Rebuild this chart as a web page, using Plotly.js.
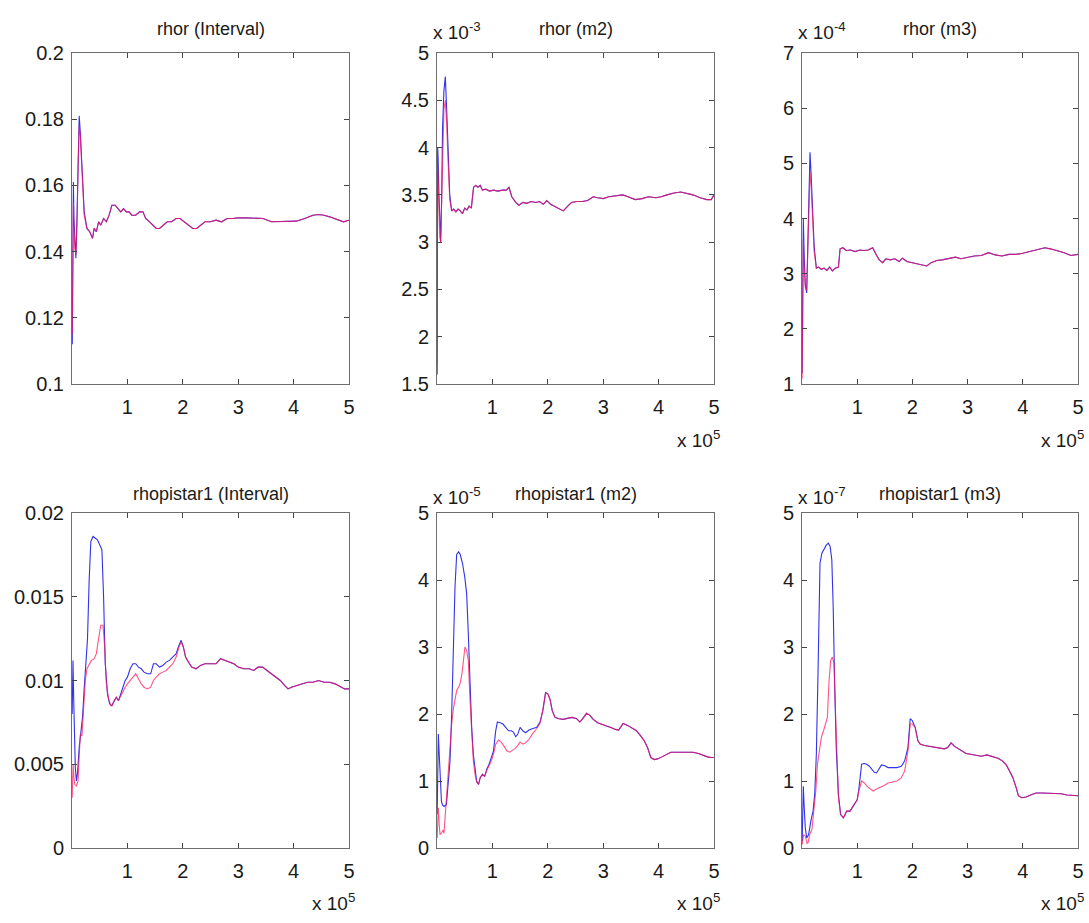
<!DOCTYPE html>
<html>
<head>
<meta charset="utf-8">
<script src="https://cdn.plot.ly/plotly-3.0.1.min.js"></script>
<style>html,body{margin:0;padding:0;background:#fff;}#chart{width:1089px;height:923px;}</style>
</head>
<body>
<div id="chart"></div>
<script>
// ---------- DATA (x in units of 1e5) ----------
const panelTitles = ["rhor (Interval)", "rhor (m2)", "rhor (m3)", "rhopistar1 (Interval)", "rhopistar1 (m2)", "rhopistar1 (m3)"];
const yExponents = ["", "-3", "-4", "", "-5", "-7"];
const xTickVals = [1, 2, 3, 4, 5];
const xTickText = ["1", "2", "3", "4", "5"];
const yTickVals1 = [0.1, 0.12, 0.14, 0.16, 0.18, 0.2];
const yTickText1 = ["0.1", "0.12", "0.14", "0.16", "0.18", "0.2"];
const yTickVals2 = [1.5, 2, 2.5, 3, 3.5, 4, 4.5, 5];
const yTickText2 = ["1.5", "2", "2.5", "3", "3.5", "4", "4.5", "5"];
const yTickVals3 = [1, 2, 3, 4, 5, 6, 7];
const yTickText3 = ["1", "2", "3", "4", "5", "6", "7"];
const yTickVals4 = [0, 0.005, 0.01, 0.015, 0.02];
const yTickText4 = ["0", "0.005", "0.01", "0.015", "0.02"];
const yTickVals5 = [0, 1, 2, 3, 4, 5];
const yTickText5 = ["0", "1", "2", "3", "4", "5"];

// Panel 1: rhor (Interval)
const xB1 = [0.005,0.015,0.025,0.035,0.05,0.07,0.09,0.11,0.13,0.15,0.18,0.22,0.27,0.32,0.37,0.40,0.44,0.48,0.52,0.57,0.62,0.67,0.72,0.78,0.83,0.88,0.93,0.98,1.03,1.08,1.15,1.22,1.28,1.33,1.40,1.46,1.52,1.58,1.65,1.72,1.80,1.88,1.95,2.02,2.10,2.18,2.25,2.32,2.40,2.50,2.60,2.70,2.80,2.90,3.00,3.15,3.30,3.45,3.60,3.75,3.90,4.05,4.20,4.35,4.45,4.55,4.65,4.80,4.90,5.00];
const yB1 = [0.112,0.135,0.161,0.150,0.142,0.138,0.150,0.170,0.181,0.176,0.165,0.152,0.147,0.146,0.144,0.147,0.146,0.149,0.148,0.150,0.149,0.151,0.154,0.154,0.153,0.152,0.153,0.152,0.152,0.151,0.151,0.152,0.152,0.150,0.149,0.148,0.147,0.147,0.148,0.149,0.149,0.150,0.150,0.149,0.148,0.147,0.147,0.148,0.149,0.149,0.1495,0.149,0.150,0.150,0.1502,0.1502,0.150,0.150,0.149,0.149,0.149,0.1492,0.150,0.151,0.1512,0.151,0.1505,0.1495,0.149,0.1495];
const xR1 = xB1;
const yR1 = [0.115,0.140,0.155,0.148,0.141,0.139,0.148,0.166,0.178,0.175,0.163,0.151,0.147,0.146,0.144,0.147,0.146,0.149,0.148,0.150,0.149,0.151,0.154,0.154,0.153,0.152,0.153,0.152,0.152,0.151,0.151,0.152,0.152,0.150,0.149,0.148,0.147,0.147,0.148,0.149,0.149,0.150,0.150,0.149,0.148,0.147,0.147,0.148,0.149,0.149,0.1495,0.149,0.150,0.150,0.1502,0.1502,0.150,0.150,0.149,0.149,0.149,0.1492,0.150,0.151,0.1512,0.151,0.1505,0.1495,0.149,0.1495];

// Panel 2: rhor (m2), units 1e-3
const xB2 = [0.003,0.008,0.012,0.020,0.035,0.050,0.066,0.085,0.10,0.125,0.150,0.175,0.20,0.23,0.265,0.30,0.34,0.38,0.42,0.46,0.50,0.54,0.58,0.62,0.66,0.70,0.74,0.78,0.82,0.88,0.95,1.02,1.10,1.18,1.25,1.30,1.35,1.42,1.48,1.55,1.62,1.70,1.78,1.85,1.92,1.98,2.05,2.12,2.20,2.28,2.36,2.43,2.52,2.62,2.72,2.82,2.90,3.00,3.10,3.20,3.35,3.45,3.58,3.70,3.82,3.95,4.05,4.15,4.28,4.40,4.50,4.62,4.75,4.87,4.95,5.00];
const yB2 = [1.6,2.6,4.0,3.9,3.5,3.1,3.0,3.5,4.2,4.6,4.75,4.4,3.9,3.5,3.33,3.35,3.32,3.35,3.33,3.30,3.36,3.34,3.38,3.36,3.58,3.60,3.58,3.60,3.55,3.56,3.54,3.55,3.54,3.55,3.55,3.58,3.48,3.42,3.39,3.42,3.41,3.43,3.42,3.43,3.40,3.44,3.40,3.38,3.35,3.33,3.38,3.42,3.43,3.43,3.44,3.48,3.47,3.46,3.48,3.49,3.50,3.48,3.45,3.46,3.48,3.47,3.48,3.50,3.52,3.53,3.52,3.50,3.47,3.45,3.45,3.50];
const xR2 = xB2;
const yR2 = [1.7,2.4,3.8,3.7,3.4,3.05,3.0,3.4,4.0,4.4,4.5,4.25,3.85,3.45,3.33,3.35,3.32,3.35,3.33,3.30,3.36,3.34,3.38,3.36,3.58,3.60,3.58,3.60,3.55,3.56,3.54,3.55,3.54,3.55,3.55,3.58,3.48,3.42,3.39,3.42,3.41,3.43,3.42,3.43,3.40,3.44,3.40,3.38,3.35,3.33,3.38,3.42,3.43,3.43,3.44,3.48,3.47,3.46,3.48,3.49,3.50,3.48,3.45,3.46,3.48,3.47,3.48,3.50,3.52,3.53,3.52,3.50,3.47,3.45,3.45,3.50];

// Panel 3: rhor (m3), units 1e-4
const xB3 = [0.003,0.010,0.018,0.024,0.04,0.06,0.085,0.10,0.12,0.145,0.165,0.19,0.22,0.26,0.30,0.35,0.40,0.45,0.50,0.55,0.60,0.66,0.69,0.74,0.80,0.88,0.96,1.05,1.12,1.20,1.28,1.34,1.40,1.46,1.52,1.60,1.68,1.76,1.82,1.90,1.98,2.06,2.15,2.26,2.34,2.44,2.54,2.66,2.78,2.88,3.00,3.12,3.25,3.38,3.50,3.62,3.75,3.88,4.00,4.12,4.25,4.40,4.50,4.62,4.75,4.87,5.00];
const yB3 = [1.2,2.5,3.9,4.0,3.3,2.8,2.65,3.3,4.5,5.2,4.8,4.2,3.5,3.1,3.12,3.08,3.10,3.06,3.12,3.05,3.10,3.12,3.45,3.47,3.42,3.43,3.40,3.43,3.42,3.43,3.47,3.35,3.25,3.20,3.27,3.25,3.27,3.22,3.28,3.22,3.20,3.18,3.16,3.14,3.20,3.24,3.25,3.28,3.30,3.27,3.30,3.32,3.33,3.38,3.34,3.32,3.35,3.35,3.37,3.40,3.43,3.47,3.45,3.42,3.38,3.33,3.35];
const xR3 = xB3;
const yR3 = [1.1,2.3,3.5,3.6,3.1,2.75,2.7,3.2,4.3,4.85,4.6,4.0,3.4,3.1,3.12,3.08,3.10,3.06,3.12,3.05,3.10,3.12,3.45,3.47,3.42,3.43,3.40,3.43,3.42,3.43,3.47,3.35,3.25,3.20,3.27,3.25,3.27,3.22,3.28,3.22,3.20,3.18,3.16,3.14,3.20,3.24,3.25,3.28,3.30,3.27,3.30,3.32,3.33,3.38,3.34,3.32,3.35,3.35,3.37,3.40,3.43,3.47,3.45,3.42,3.38,3.33,3.35];

// Panel 4: rhopistar1 (Interval)
const xB4 = [0.003,0.012,0.018,0.030,0.045,0.060,0.08,0.10,0.13,0.16,0.19,0.22,0.25,0.28,0.31,0.34,0.38,0.42,0.46,0.50,0.54,0.57,0.60,0.64,0.68,0.72,0.76,0.80,0.84,0.88,0.92,0.96,1.00,1.05,1.10,1.15,1.20,1.25,1.30,1.36,1.42,1.47,1.52,1.58,1.64,1.70,1.76,1.82,1.88,1.93,1.97,2.01,2.05,2.10,2.16,2.24,2.32,2.40,2.50,2.60,2.68,2.76,2.84,2.92,3.00,3.10,3.20,3.28,3.36,3.44,3.52,3.60,3.68,3.76,3.84,3.90,3.96,4.05,4.15,4.25,4.35,4.45,4.55,4.65,4.75,4.85,4.92,5.00];
const yB4 = [0.0080,0.0100,0.0112,0.0090,0.0060,0.0048,0.0040,0.0045,0.0060,0.0068,0.0078,0.0095,0.0110,0.0125,0.0160,0.0183,0.0186,0.0185,0.0184,0.0181,0.0178,0.0150,0.0110,0.0092,0.0086,0.0085,0.0088,0.0090,0.0088,0.0092,0.0095,0.0100,0.0102,0.0107,0.0110,0.0110,0.0108,0.0107,0.0105,0.0104,0.0104,0.0110,0.0110,0.0108,0.0109,0.0111,0.0112,0.0114,0.0116,0.0121,0.0124,0.0120,0.0114,0.0111,0.0108,0.0107,0.0109,0.0110,0.0110,0.0110,0.0113,0.0112,0.0111,0.0110,0.0108,0.0107,0.0107,0.0106,0.0108,0.0108,0.0106,0.0104,0.0102,0.0100,0.0097,0.0095,0.0096,0.0097,0.0098,0.0099,0.0099,0.0100,0.0099,0.0099,0.0098,0.0096,0.0095,0.0095];
const xR4 = [0.003,0.012,0.020,0.035,0.05,0.08,0.11,0.13,0.15,0.18,0.21,0.24,0.27,0.31,0.35,0.40,0.44,0.48,0.52,0.56,0.59,0.62,0.66,0.70,0.72,0.76,0.80,0.84,0.88,0.92,0.96,1.00,1.05,1.10,1.15,1.20,1.25,1.30,1.36,1.42,1.47,1.52,1.58,1.64,1.70,1.76,1.82,1.88,1.93,1.97,2.01,2.05,2.10,2.16,2.24,2.32,2.40,2.50,2.60,2.68,2.76,2.84,2.92,3.00,3.10,3.20,3.28,3.36,3.44,3.52,3.60,3.68,3.76,3.84,3.90,3.96,4.05,4.15,4.25,4.35,4.45,4.55,4.65,4.75,4.85,4.92,5.00];
const yR4 = [0.0030,0.0045,0.0050,0.0042,0.0038,0.0037,0.0040,0.0055,0.0068,0.0067,0.0082,0.0100,0.0107,0.0110,0.0112,0.0113,0.0116,0.0125,0.0133,0.0133,0.0120,0.0098,0.0089,0.0085,0.0085,0.0088,0.0090,0.0088,0.0091,0.0093,0.0096,0.0098,0.0100,0.0102,0.0104,0.0101,0.0098,0.0096,0.0095,0.0096,0.0100,0.0102,0.0104,0.0105,0.0106,0.0108,0.0110,0.0114,0.0120,0.0123,0.0120,0.0114,0.0111,0.0108,0.0107,0.0109,0.0110,0.0110,0.0110,0.0113,0.0112,0.0111,0.0110,0.0108,0.0107,0.0107,0.0106,0.0108,0.0108,0.0106,0.0104,0.0102,0.0100,0.0097,0.0095,0.0096,0.0097,0.0098,0.0099,0.0099,0.0100,0.0099,0.0099,0.0098,0.0096,0.0095,0.0095];

// Panel 5: rhopistar1 (m2), units 1e-5
const xB5 = [0.003,0.012,0.024,0.04,0.06,0.08,0.10,0.13,0.17,0.20,0.235,0.265,0.295,0.325,0.355,0.39,0.42,0.46,0.50,0.535,0.565,0.596,0.626,0.656,0.686,0.716,0.75,0.78,0.82,0.86,0.90,0.94,0.98,1.02,1.06,1.09,1.14,1.19,1.24,1.29,1.34,1.38,1.42,1.46,1.50,1.55,1.60,1.66,1.72,1.80,1.86,1.91,1.96,2.00,2.04,2.08,2.13,2.20,2.28,2.36,2.44,2.52,2.58,2.63,2.70,2.76,2.82,2.90,2.98,3.06,3.14,3.22,3.28,3.36,3.44,3.52,3.60,3.68,3.74,3.80,3.86,3.92,3.98,4.06,4.14,4.22,4.32,4.42,4.52,4.62,4.72,4.80,4.88,4.95,5.00];
const yB5 = [0.5,1.5,1.7,1.4,0.9,0.7,0.64,0.62,0.65,0.9,1.3,2.0,3.0,3.9,4.38,4.42,4.38,4.25,4.05,3.8,3.2,2.4,1.8,1.4,1.15,0.99,0.95,1.05,1.1,1.07,1.18,1.25,1.35,1.45,1.75,1.88,1.87,1.85,1.80,1.75,1.75,1.73,1.66,1.70,1.80,1.75,1.72,1.76,1.78,1.80,1.88,2.05,2.32,2.30,2.22,2.05,1.95,1.93,1.92,1.94,1.95,1.93,1.88,1.93,2.01,1.98,1.92,1.87,1.84,1.82,1.80,1.77,1.76,1.86,1.83,1.79,1.75,1.67,1.60,1.50,1.35,1.32,1.33,1.36,1.40,1.43,1.43,1.43,1.44,1.43,1.41,1.38,1.36,1.35,1.35];
const xR5 = [0.003,0.012,0.024,0.04,0.054,0.08,0.11,0.126,0.15,0.18,0.20,0.235,0.265,0.30,0.335,0.355,0.39,0.415,0.45,0.48,0.505,0.535,0.565,0.596,0.626,0.656,0.686,0.716,0.75,0.78,0.82,0.86,0.90,0.94,0.98,1.02,1.06,1.11,1.16,1.21,1.26,1.31,1.35,1.40,1.45,1.50,1.55,1.60,1.66,1.72,1.80,1.86,1.91,1.96,2.00,2.04,2.08,2.13,2.20,2.28,2.36,2.44,2.52,2.58,2.63,2.70,2.76,2.82,2.90,2.98,3.06,3.14,3.22,3.28,3.36,3.44,3.52,3.60,3.68,3.74,3.80,3.86,3.92,3.98,4.06,4.14,4.22,4.32,4.42,4.52,4.62,4.72,4.80,4.88,4.95,5.00];
const yR5 = [0.15,0.5,0.6,0.35,0.2,0.22,0.27,0.22,0.5,0.9,1.1,1.5,1.85,2.1,2.3,2.35,2.4,2.45,2.6,2.85,3.0,2.95,2.8,2.2,1.65,1.3,1.1,0.99,0.95,1.05,1.1,1.07,1.16,1.22,1.30,1.40,1.55,1.61,1.58,1.52,1.45,1.43,1.45,1.48,1.52,1.58,1.55,1.57,1.62,1.70,1.78,1.86,2.05,2.32,2.30,2.22,2.05,1.95,1.93,1.92,1.94,1.95,1.93,1.88,1.93,2.01,1.98,1.92,1.87,1.84,1.82,1.80,1.77,1.76,1.86,1.83,1.79,1.75,1.67,1.60,1.50,1.35,1.32,1.33,1.36,1.40,1.43,1.43,1.43,1.44,1.43,1.41,1.38,1.36,1.35,1.35];

// Panel 6: rhopistar1 (m3), units 1e-7
const xB6 = [0.003,0.012,0.024,0.04,0.06,0.085,0.12,0.16,0.20,0.23,0.26,0.29,0.31,0.326,0.36,0.40,0.44,0.477,0.51,0.54,0.565,0.59,0.62,0.66,0.70,0.75,0.81,0.87,0.92,0.96,1.00,1.03,1.06,1.08,1.13,1.17,1.22,1.26,1.31,1.35,1.40,1.44,1.49,1.56,1.64,1.72,1.80,1.86,1.92,1.96,2.00,2.05,2.10,2.14,2.22,2.30,2.40,2.50,2.58,2.64,2.70,2.76,2.83,2.90,2.97,3.05,3.15,3.25,3.35,3.45,3.55,3.63,3.70,3.76,3.82,3.88,3.92,3.98,4.06,4.14,4.24,4.35,4.48,4.60,4.70,4.80,4.90,5.00];
const yB6 = [0.1,0.6,0.92,0.6,0.3,0.15,0.2,0.4,0.55,0.8,1.4,2.6,3.6,4.25,4.4,4.47,4.52,4.55,4.5,4.3,3.6,2.5,1.5,0.8,0.5,0.45,0.55,0.55,0.62,0.68,0.72,0.88,1.10,1.25,1.26,1.25,1.22,1.18,1.13,1.12,1.20,1.24,1.23,1.20,1.20,1.20,1.22,1.30,1.50,1.93,1.90,1.80,1.60,1.55,1.53,1.52,1.51,1.49,1.48,1.50,1.57,1.52,1.48,1.44,1.41,1.40,1.38,1.37,1.39,1.37,1.34,1.30,1.24,1.15,1.05,0.90,0.78,0.75,0.76,0.79,0.82,0.82,0.82,0.82,0.81,0.79,0.78,0.78];
const xR6 = [0.003,0.015,0.03,0.06,0.09,0.11,0.14,0.18,0.21,0.25,0.28,0.31,0.35,0.39,0.43,0.46,0.49,0.52,0.55,0.58,0.60,0.63,0.66,0.70,0.75,0.81,0.87,0.92,0.96,1.00,1.03,1.06,1.08,1.13,1.18,1.24,1.29,1.35,1.41,1.48,1.56,1.64,1.72,1.80,1.86,1.92,1.96,2.00,2.05,2.10,2.14,2.22,2.30,2.40,2.50,2.58,2.64,2.70,2.76,2.83,2.90,2.97,3.05,3.15,3.25,3.35,3.45,3.55,3.63,3.70,3.76,3.82,3.88,3.92,3.98,4.06,4.14,4.24,4.35,4.48,4.60,4.70,4.80,4.90,5.00];
const yR6 = [0.05,0.15,0.2,0.18,0.07,0.08,0.2,0.28,0.5,0.85,1.25,1.45,1.65,1.75,1.85,1.95,2.5,2.8,2.85,2.75,2.2,1.3,0.75,0.5,0.45,0.55,0.55,0.62,0.68,0.72,0.85,0.95,1.0,0.97,0.92,0.88,0.85,0.88,0.90,0.93,0.97,0.98,1.00,1.05,1.15,1.45,1.85,1.85,1.80,1.60,1.55,1.53,1.52,1.51,1.49,1.48,1.50,1.57,1.52,1.48,1.44,1.41,1.40,1.38,1.37,1.39,1.37,1.34,1.30,1.24,1.15,1.05,0.90,0.78,0.75,0.76,0.79,0.82,0.82,0.82,0.82,0.81,0.79,0.78,0.78];

// ---------- LAYOUT ----------
const W = 1089, H = 923;
const px = v => v / W;
const py = v => 1 - v / H;
const colX = [[72, 349], [437, 714], [802, 1078]];
const rowY = [[53, 384], [513, 848]];
const FONT = "Liberation Sans, Arial, Helvetica, sans-serif";
const TXT = "#1a1a1a";

const series = [
  [xB1, yB1, xR1, yR1], [xB2, yB2, xR2, yR2], [xB3, yB3, xR3, yR3],
  [xB4, yB4, xR4, yR4], [xB5, yB5, xR5, yR5], [xB6, yB6, xR6, yR6]
];
const yTicks = [
  [yTickVals1, yTickText1, [0.1, 0.2]],
  [yTickVals2, yTickText2, [1.5, 5]],
  [yTickVals3, yTickText3, [1, 7]],
  [yTickVals4, yTickText4, [0, 0.02]],
  [yTickVals5, yTickText5, [0, 5]],
  [yTickVals5, yTickText5, [0, 5]]
];

const traces = [];
const layout = {
  width: W, height: H,
  margin: {l: 0, r: 0, t: 0, b: 0},
  paper_bgcolor: "#ffffff", plot_bgcolor: "#ffffff",
  showlegend: false,
  annotations: []
};

for (let i = 0; i < 6; i++) {
  const r = Math.floor(i / 3), c = i % 3;
  const n = i === 0 ? "" : String(i + 1);
  const [xb, yb, xr, yr] = series[i];
  traces.push({x: xb, y: yb, type: "scatter", mode: "lines", xaxis: "x" + n, yaxis: "y" + n,
    line: {color: "rgb(50,50,235)", width: 1.1}, hoverinfo: "skip"});
  traces.push({x: xr, y: yr, type: "scatter", mode: "lines", xaxis: "x" + n, yaxis: "y" + n,
    line: {color: "rgb(255,20,90)", width: 1.1}, opacity: 0.72, hoverinfo: "skip"});
  const common = {
    showline: true, linecolor: "#6e6e6e", linewidth: 1, mirror: "ticks",
    ticks: "inside", ticklen: 5, tickcolor: "#444", tickwidth: 1,
    showgrid: false, zeroline: false,
    tickfont: {family: FONT, size: 20, color: TXT}
  };
  layout["xaxis" + n] = Object.assign({}, common, {
    domain: [px(colX[c][0]), px(colX[c][1])], range: [0, 5],
    tickmode: "array", tickvals: xTickVals, ticktext: xTickText,
    anchor: "y" + n, ticklabelstandoff: 5
  });
  layout["yaxis" + n] = Object.assign({}, common, {
    domain: [py(rowY[r][1]), py(rowY[r][0])], range: yTicks[i][2],
    tickmode: "array", tickvals: yTicks[i][0], ticktext: yTicks[i][1],
    anchor: "x" + n, ticklabelstandoff: 3
  });
  const cx = (colX[c][0] + colX[c][1]) / 2;
  const ty = r === 0 ? 29 : 494;
  layout.annotations.push({text: panelTitles[i], xref: "paper", yref: "paper",
    x: px(cx), y: py(ty), xanchor: "center", yanchor: "middle", showarrow: false,
    font: {family: FONT, size: 18, color: TXT}});
  if (yExponents[i]) {
    layout.annotations.push({text: "x 10<sup>" + yExponents[i] + "</sup>", xref: "paper", yref: "paper",
      x: px(colX[c][0] - 6), y: py(ty + 2), xanchor: "left", yanchor: "middle", showarrow: false,
      font: {family: FONT, size: 19, color: TXT}});
  }
  if (i !== 0) {
    const ey = r === 0 ? 439 : 902;
    layout.annotations.push({text: "x 10<sup>5</sup>", xref: "paper", yref: "paper",
      x: px(colX[c][1] + 8), y: py(ey), xanchor: "right", yanchor: "middle", showarrow: false,
      font: {family: FONT, size: 19, color: TXT}});
  }
}

Plotly.newPlot("chart", traces, layout, {staticPlot: true, displayModeBar: false});
</script>
</body>
</html>
